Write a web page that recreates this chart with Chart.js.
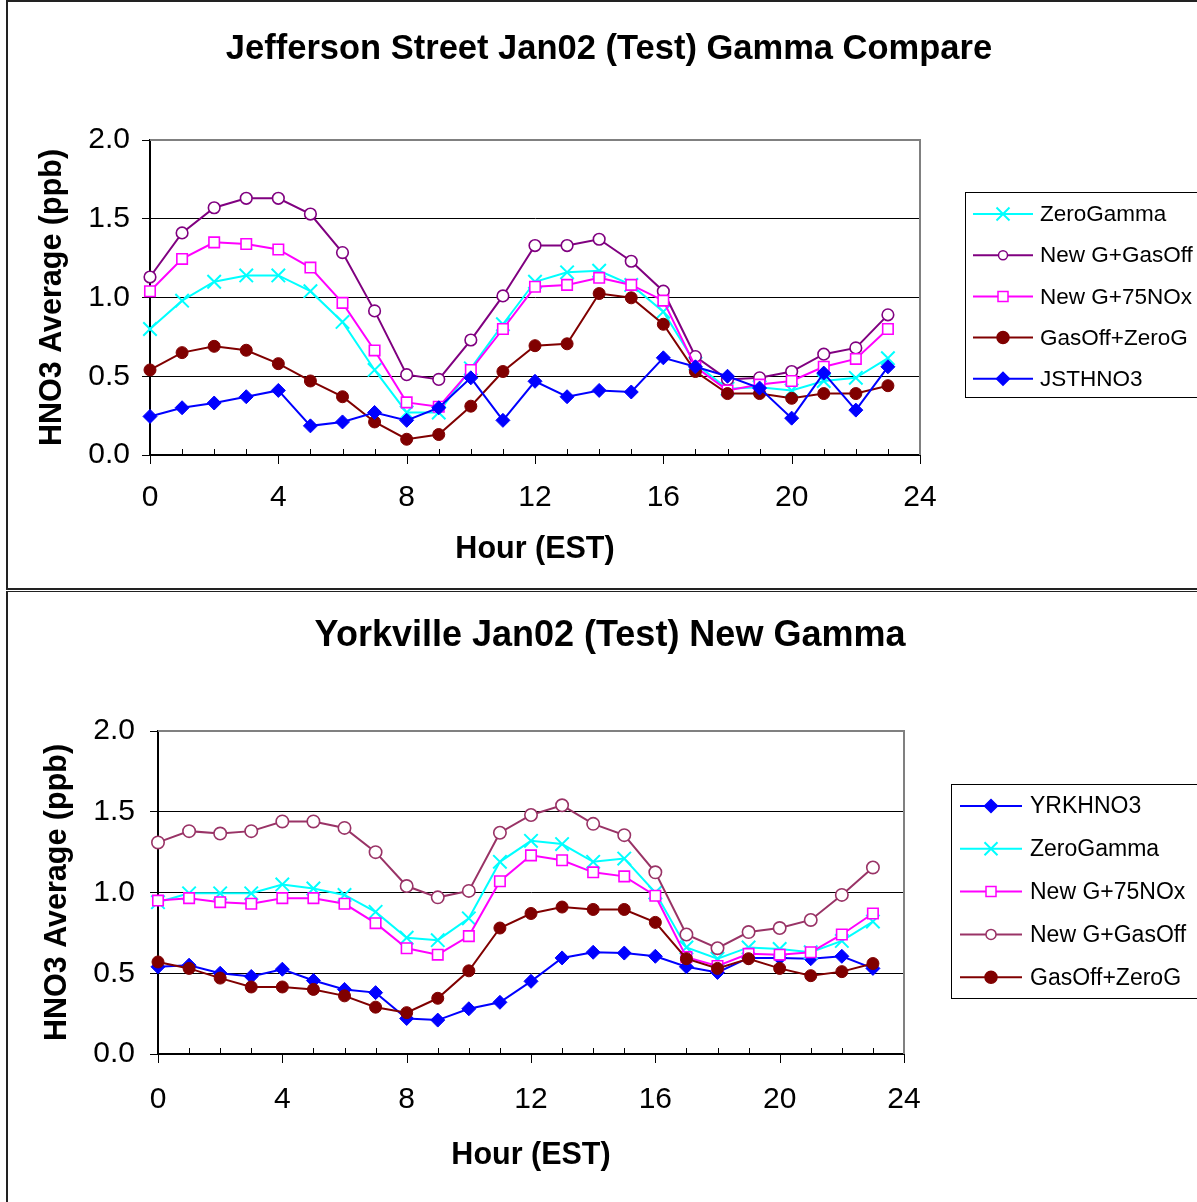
<!DOCTYPE html>
<html><head><meta charset="utf-8">
<script src="https://cdn.jsdelivr.net/npm/chart.js@4/dist/chart.umd.min.js"></script>
<style>
html,body{margin:0;padding:0;background:#fff;overflow:hidden;width:1197px;height:1202px;}
.frame{position:absolute;box-sizing:border-box;}
#f1{left:6px;top:0;width:1210px;height:590px;border-left:2px solid #222;border-top:2px solid #222;border-bottom:2px solid #222;}
#f2{left:6px;top:591px;width:1210px;height:630px;border-left:2px solid #222;border-top:1px solid #222;}
canvas{position:absolute;left:0;}
#c1{top:0;}
#c2{top:591px;}
</style></head>
<body>
<div class="frame" id="f1"></div>
<div class="frame" id="f2"></div>
<canvas id="c1" width="1197" height="589"></canvas>
<canvas id="c2" width="1197" height="611"></canvas>
<script>
// ---------- DATA ----------
const hours = [0,1,2,3,4,5,6,7,8,9,10,11,12,13,14,15,16,17,18,19,20,21,22,23];
const xTickLabels = [0,4,8,12,16,20,24];
const yTickLabels = ['0.0','0.5','1.0','1.5','2.0'];

const jsTitle = 'Jefferson Street Jan02 (Test) Gamma Compare';
const jsLabels = ['ZeroGamma','New G+GasOff','New G+75NOx','GasOff+ZeroG','JSTHNO3'];
const jsZeroGamma  = [0.80,0.98,1.10,1.14,1.14,1.04,0.845,0.54,0.27,0.27,0.55,0.83,1.10,1.16,1.17,1.08,0.91,0.58,0.42,0.43,0.41,0.47,0.49,0.615];
const jsNewGGasOff = [1.13,1.41,1.57,1.63,1.63,1.53,1.285,0.915,0.51,0.48,0.73,1.01,1.33,1.33,1.37,1.23,1.04,0.625,0.48,0.49,0.53,0.64,0.68,0.89];
const jsNewG75NOx  = [1.04,1.245,1.35,1.34,1.305,1.19,0.966,0.664,0.334,0.306,0.54,0.80,1.068,1.08,1.125,1.08,0.98,0.56,0.41,0.447,0.47,0.56,0.61,0.80];
const jsGasOffZeroG= [0.54,0.65,0.69,0.665,0.58,0.47,0.37,0.21,0.10,0.13,0.31,0.53,0.694,0.706,1.025,0.998,0.83,0.53,0.39,0.39,0.36,0.39,0.39,0.44];
const jsJSTHNO3    = [0.245,0.30,0.33,0.37,0.41,0.185,0.21,0.27,0.22,0.30,0.49,0.22,0.468,0.37,0.41,0.40,0.617,0.56,0.50,0.425,0.234,0.52,0.285,0.56];

const ykTitle = 'Yorkville Jan02 (Test) New Gamma';
const ykLabels = ['YRKHNO3','ZeroGamma','New G+75NOx','New G+GasOff','GasOff+ZeroG'];
const ykYRKHNO3    = [0.54,0.55,0.50,0.48,0.525,0.455,0.40,0.38,0.22,0.21,0.28,0.32,0.45,0.595,0.63,0.625,0.605,0.54,0.505,0.595,0.595,0.59,0.605,0.53];
const ykZeroGamma  = [0.94,0.995,0.995,0.995,1.05,1.025,0.985,0.88,0.72,0.705,0.84,1.19,1.32,1.30,1.19,1.21,1.00,0.66,0.59,0.66,0.65,0.63,0.70,0.82];
const ykNewG75NOx  = [0.95,0.965,0.94,0.93,0.965,0.965,0.93,0.81,0.655,0.615,0.73,1.07,1.23,1.20,1.125,1.10,0.98,0.60,0.545,0.62,0.615,0.63,0.74,0.87];
const ykNewGGasOff = [1.31,1.38,1.365,1.38,1.44,1.44,1.40,1.25,1.04,0.97,1.01,1.37,1.48,1.54,1.425,1.355,1.125,0.74,0.655,0.755,0.78,0.83,0.985,1.155];
const ykGasOffZeroG= [0.57,0.53,0.47,0.415,0.415,0.40,0.36,0.29,0.256,0.345,0.515,0.78,0.87,0.91,0.895,0.895,0.815,0.59,0.53,0.59,0.53,0.485,0.51,0.56];

const xTitle = 'Hour (EST)';
const yTitle = 'HNO3 Average (ppb)';

// ---------- STYLES ----------
const FONT = "'Liberation Sans', Arial, Helvetica, sans-serif";
const ST = {
  cyanX:    {color:'#00FFFF', fill:'#00FFFF', style:'crossRot', r:9.5, bw:2,   lr:6.5},
  purpleO:  {color:'#800080', fill:'#FFFFFF', style:'circle',   r:5.8, bw:1.6, lr:4.5},
  mauveO:   {color:'#993366', fill:'#FFFFFF', style:'circle',   r:6.2, bw:1.6, lr:5},
  magentaS: {color:'#FF00FF', fill:'#FFFFFF', style:'rect',     r:7.4, bw:1.6, lr:5},
  brownC:   {color:'#800000', fill:'#800000', style:'circle',   r:6,   bw:1,   lr:6},
  blueD:    {color:'#0000FF', fill:'#0000FF', style:'rectRot',  r:7,   bw:1,   lr:6.5}
};

function drawMarker(ctx, style, x, y, r, color, fill, lw){
  ctx.save();
  ctx.lineWidth = lw; ctx.strokeStyle = color; ctx.fillStyle = fill;
  ctx.beginPath();
  if (style === 'circle') ctx.arc(x, y, r, 0, Math.PI*2);
  else if (style === 'rect') ctx.rect(x-r, y-r, 2*r, 2*r);
  else if (style === 'rectRot') { ctx.moveTo(x-r,y); ctx.lineTo(x,y-r); ctx.lineTo(x+r,y); ctx.lineTo(x,y+r); ctx.closePath(); }
  else if (style === 'crossRot') { ctx.moveTo(x-r,y-r); ctx.lineTo(x+r,y+r); ctx.moveTo(x-r,y+r); ctx.lineTo(x+r,y-r); }
  if (style !== 'crossRot') ctx.fill();
  ctx.stroke();
  ctx.restore();
}

const decorPlugin = {
  id: 'decor',
  beforeDatasetsDraw(chart){
    const {ctx, chartArea:a, scales:{x}} = chart;
    ctx.save();
    ctx.strokeStyle = '#808080'; ctx.lineWidth = 2;
    ctx.beginPath();
    ctx.moveTo(a.left, a.top); ctx.lineTo(a.right, a.top); ctx.lineTo(a.right, a.bottom);
    ctx.stroke();
    ctx.strokeStyle = '#000'; ctx.lineWidth = 1;
    for (let h = 0; h <= 24; h++) {
      const px = Math.round(x.getPixelForValue(h)) + 0.5;
      ctx.beginPath();
      if (h % 4 === 0) { ctx.moveTo(px, a.bottom); ctx.lineTo(px, a.bottom + 9); }
      else { ctx.moveTo(px, a.bottom - 6); ctx.lineTo(px, a.bottom); }
      ctx.stroke();
    }
    ctx.restore();
  },
  afterDraw(chart){
    const lg = chart.options.plugins.customLegend;
    if (!lg) return;
    const ctx = chart.ctx;
    ctx.save();
    ctx.fillStyle = '#fff';
    ctx.fillRect(lg.x, lg.y, lg.w, lg.h);
    ctx.strokeStyle = '#000'; ctx.lineWidth = 1;
    ctx.strokeRect(lg.x + 0.5, lg.y + 0.5, lg.w, lg.h);
    ctx.font = lg.fontSize + 'px ' + FONT;
    ctx.textBaseline = 'middle'; ctx.textAlign = 'left';
    chart.data.datasets.forEach((ds, i) => {
      const s = ds._st;
      const y = lg.y0 + i * lg.dy;
      ctx.strokeStyle = s.color; ctx.lineWidth = 2;
      ctx.beginPath(); ctx.moveTo(lg.lx1, y); ctx.lineTo(lg.lx2, y); ctx.stroke();
      drawMarker(ctx, s.style, (lg.lx1 + lg.lx2) / 2, y, s.lr, s.color, s.fill, s.style === 'crossRot' ? 2 : 1.5);
      ctx.fillStyle = '#000';
      ctx.fillText(ds.label, lg.tx, y + 1);
    });
    ctx.restore();
  }
};

function makeChart(id, title, labels, seriesVals, styles, L){
  const n = seriesVals.length;
  const datasets = seriesVals.map((vals, i) => {
    const s = styles[i];
    return {
      label: labels[i],
      data: hours.map((h, j) => ({x: h, y: vals[j]})),
      borderColor: s.color, backgroundColor: s.fill, borderWidth: 2,
      pointStyle: s.style, pointRadius: s.r, pointBorderWidth: s.bw,
      pointBackgroundColor: s.fill, pointBorderColor: s.color,
      tension: 0, order: n - i, clip: false, _st: s
    };
  });
  return new Chart(document.getElementById(id), {
    type: 'line',
    data: { datasets },
    options: {
      responsive: false, animation: false, devicePixelRatio: 1, events: [],
      layout: { padding: { left: L.padL, right: 0, top: 0, bottom: L.padB } },
      plugins: {
        legend: { display: false }, tooltip: { enabled: false },
        title: { display: true, text: title, color: '#000',
                 font: { family: FONT, size: L.titleSize, weight: 'bold', lineHeight: 1.2 },
                 padding: { top: L.tPadT, bottom: L.tPadB } },
        customLegend: L.legend
      },
      scales: {
        x: {
          type: 'linear', min: 0, max: 24, position: 'bottom',
          afterBuildTicks(s){ s.ticks = xTickLabels.map(v => ({value: v})); },
          ticks: { color: '#000', font: { family: FONT, size: 30 }, padding: L.xTickPad, maxRotation: 0, autoSkip: false,
                   callback: v => String(v) },
          grid: { display: true, drawOnChartArea: false, drawTicks: false },
          border: { display: true, color: '#000', width: 2 },
          title: { display: true, text: xTitle, color: '#000', font: { family: FONT, size: 30.5, weight: 'bold', lineHeight: 1.2 },
                   padding: { top: 0, bottom: 0 } },
          afterFit(s){ s.height = L.xH; }
        },
        y: {
          type: 'linear', min: 0, max: 2, position: 'left',
          afterBuildTicks(s){ s.ticks = yTickLabels.map(t => ({value: parseFloat(t)})); },
          ticks: { color: '#000', font: { family: FONT, size: 30 }, padding: L.yTickPad,
                   callback: v => yTickLabels.find(t => parseFloat(t) === v) },
          grid: { color: c => (c.tick && c.tick.value === 2) ? 'rgba(0,0,0,0)' : '#000', lineWidth: 1,
                  drawTicks: true, tickLength: 8, tickColor: '#000', tickWidth: 1 },
          border: { display: true, color: '#000', width: 2 },
          title: { display: true, text: yTitle, color: '#000', font: { family: FONT, size: 30.5, weight: 'bold', lineHeight: 1.2 },
                   padding: { top: L.yTitlePad, bottom: 0 } },
          afterFit(s){ s.width = L.yW; }
        },
        yR: {
          type: 'linear', min: 0, max: 2, position: 'right', display: true,
          ticks: { display: false }, grid: { display: false }, border: { display: false },
          afterFit(s){ s.width = L.rW; }
        }
      }
    },
    plugins: [decorPlugin]
  });
}

makeChart('c1', jsTitle, jsLabels,
  [jsZeroGamma, jsNewGGasOff, jsNewG75NOx, jsGasOffZeroG, jsJSTHNO3],
  [ST.cyanX, ST.purpleO, ST.magentaS, ST.brownC, ST.blueD],
  { titleSize: 34.5, padL: 21, padB: 20.7, tPadT: 28.3, tPadB: 70.3, xH: 113.3, xTickPad: 25, yTickPad: 12, yTitlePad: 13.2, yW: 129, rW: 277,
    legend: { x: 965, y: 192, w: 300, h: 205, y0: 214, dy: 41.2, lx1: 973, lx2: 1033, tx: 1040, fontSize: 22.5 } });

makeChart('c2', ykTitle, ykLabels,
  [ykYRKHNO3, ykZeroGamma, ykNewG75NOx, ykNewGGasOff, ykGasOffZeroG],
  [ST.blueD, ST.cyanX, ST.magentaS, ST.mauveO, ST.brownC],
  { titleSize: 36, padL: 23, padB: 27.7, tPadT: 23.4, tPadB: 73.4, xH: 120.3, xTickPad: 28, yTickPad: 15, yTitlePad: 16.7, yW: 135, rW: 293,
    legend: { x: 951, y: 193, w: 300, h: 214, y0: 215, dy: 42.8, lx1: 960, lx2: 1022, tx: 1030, fontSize: 23 } });
</script>
</body></html>
